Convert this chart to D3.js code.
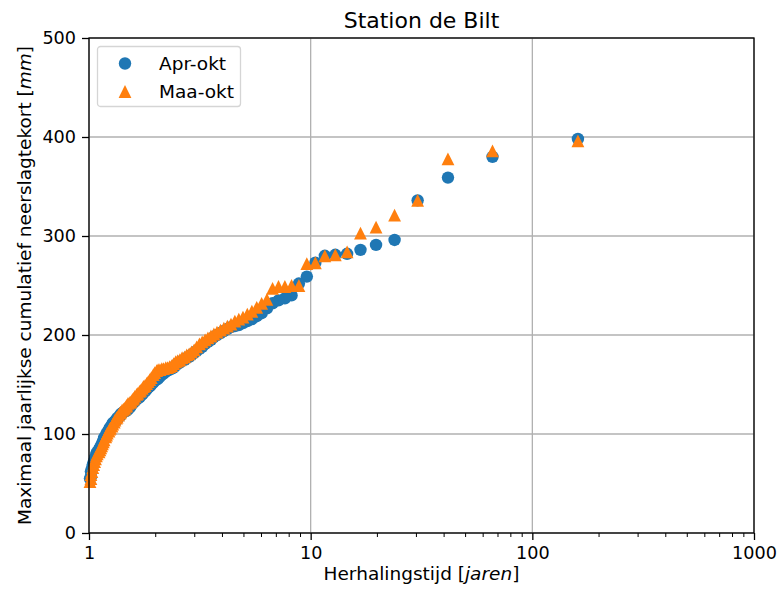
<!DOCTYPE html>
<html>
<head>
<meta charset="utf-8">
<script src="https://cdn.jsdelivr.net/npm/d3@7"></script>
<style>
  body { margin: 0; background: #fff; }
  svg text { font-family: "DejaVu Sans", sans-serif; fill: #000; }
</style>
</head>
<body>
<div id="chart"></div>
<script>
// herhalingstijd per rang (1 = grootste tekort), jaren
var returnPeriods = [160.57, 66.12, 41.63, 30.38, 23.91, 19.72, 16.78, 14.60, 12.92, 11.59,
  10.50, 9.61, 8.85, 8.20, 7.65, 7.16, 6.73, 6.35, 6.01, 5.71,
  5.43, 5.18, 4.95, 4.74, 4.55, 4.37, 4.21, 4.06, 3.92, 3.78,
  3.66, 3.55, 3.44, 3.34, 3.24, 3.15, 3.06, 2.98, 2.90, 2.83,
  2.76, 2.70, 2.63, 2.57, 2.51, 2.46, 2.41, 2.36, 2.31, 2.26,
  2.22, 2.17, 2.13, 2.09, 2.05, 2.02, 1.98, 1.95, 1.91, 1.88,
  1.85, 1.82, 1.79, 1.76, 1.74, 1.71, 1.69, 1.66, 1.64, 1.61,
  1.59, 1.57, 1.55, 1.53, 1.50, 1.48, 1.47, 1.45, 1.43, 1.41,
  1.39, 1.38, 1.36, 1.34, 1.33, 1.31, 1.30, 1.28, 1.27, 1.25,
  1.24, 1.23, 1.21, 1.20, 1.19, 1.17, 1.16, 1.15, 1.14, 1.13,
  1.12, 1.11, 1.09, 1.08, 1.07, 1.06, 1.05, 1.04, 1.03, 1.02,
  1.02, 1.01];

// neerslagtekort Apr-okt (mm), zelfde volgorde
var aprOkt = [398, 380, 359, 336, 296, 291, 286, 282, 281, 280,
  273, 259, 252, 240, 237, 235, 232, 227, 222, 219,
  216, 214, 212, 210, 209, 208, 206, 204, 202, 200,
  198, 195, 193, 191, 188, 186, 184, 182, 180, 178,
  177, 175, 174, 172, 171, 169, 167, 166, 165, 164,
  163, 161, 160, 158, 156, 155, 154, 152, 150, 148,
  147, 145, 143, 142, 140, 139, 137, 136, 135, 133,
  132, 131, 129, 127, 125, 124, 123, 123, 122, 121,
  120, 118, 117, 116, 114, 113, 112, 111, 109, 107,
  106, 104, 102, 100, 98, 96, 93, 91, 89, 87,
  86, 84, 82, 80, 77, 74, 71, 69, 65, 62,
  57, 55];

// neerslagtekort Maa-okt (mm)
var maaOkt = [396, 386, 378, 336, 321, 309, 303, 284, 281, 280,
  273, 272, 250, 250, 249, 249, 247, 236, 232, 228,
  224, 221, 218, 216, 214, 211, 209, 207, 205, 203,
  201, 199, 197, 195, 193, 191, 188, 185, 183, 181,
  180, 178, 177, 175, 174, 173, 171, 169, 168, 167,
  167, 166, 166, 165, 165, 164, 162, 160, 157, 155,
  153, 151, 149, 148, 146, 144, 143, 141, 140, 138,
  136, 135, 133, 132, 131, 129, 128, 126, 125, 124,
  122, 121, 119, 117, 116, 114, 112, 110, 108, 106,
  105, 103, 101, 99, 97, 94, 92, 90, 88, 86,
  84, 82, 80, 78, 75, 72, 69, 66, 62, 59,
  55, 52];

var xTicks = [1, 10, 100, 1000];
var xTickLabels = ["1", "10", "100", "1000"];
var yTicks = [0, 100, 200, 300, 400, 500];
var seriesNames = ["Apr-okt", "Maa-okt"];
var seriesColors = ["#1f77b4", "#ff7f0e"];

var W = 779, H = 595;
var m = {left: 89, right: 25, top: 38, bottom: 62};
var tickFont = "17.6px", labelFont = "18.5px";

var svg = d3.select("#chart").append("svg")
  .attr("width", W).attr("height", H);

var x = d3.scaleLog().domain([1, 1000]).range([m.left, W - m.right]);
var y = d3.scaleLinear().domain([0, 500]).range([H - m.bottom, m.top]);

// grid
var grid = svg.append("g");
grid.selectAll(".gx").data(xTicks).enter().append("line")
  .attr("x1", function(d) { return x(d); }).attr("x2", function(d) { return x(d); })
  .attr("y1", y(0)).attr("y2", y(500))
  .attr("stroke", "#b0b0b0").attr("stroke-width", 1.3);
grid.selectAll(".gy").data(yTicks).enter().append("line")
  .attr("x1", x(1)).attr("x2", x(1000))
  .attr("y1", function(d) { return y(d); }).attr("y2", function(d) { return y(d); })
  .attr("stroke", "#b0b0b0").attr("stroke-width", 1.3);

// punten
var pts = [];
returnPeriods.forEach(function(t, i) {
  pts.push({t: t, v: aprOkt[i], s: 0});
});
returnPeriods.forEach(function(t, i) {
  pts.push({t: t, v: maaOkt[i], s: 1});
});

var plot = svg.append("g");
var r = 6.2;
plot.selectAll(".c").data(pts.filter(function(d) { return d.s == 0; }))
  .enter().append("circle")
  .attr("cx", function(d) { return x(d.t); })
  .attr("cy", function(d) { return y(d.v); })
  .attr("r", r)
  .attr("fill", seriesColors[0]);

function tri(h) { return "M0," + (-h) + "L" + h + "," + h + "L" + (-h) + "," + h + "Z"; }
plot.selectAll(".t").data(pts.filter(function(d) { return d.s == 1; }))
  .enter().append("path")
  .attr("d", tri(6.4))
  .attr("transform", function(d) { return "translate(" + x(d.t) + "," + y(d.v) + ")"; })
  .attr("fill", seriesColors[1]);

// assen
var xAxis = d3.axisBottom(x).tickValues(xTicks).tickFormat(function(d, i) { return xTickLabels[i]; })
  .tickSizeInner(7).tickSizeOuter(0).tickPadding(7);
var gx = svg.append("g").attr("transform", "translate(0," + y(0) + ")").call(xAxis);
gx.select(".domain").remove();
gx.selectAll("text").style("font-size", tickFont);
gx.selectAll("line").attr("stroke-width", 1.3);

// kleine ticks
var minor = [];
[1, 10, 100].forEach(function(dec) {
  for (var k = 2; k <= 9; k++) minor.push(dec * k);
});
svg.append("g").selectAll("line").data(minor).enter().append("line")
  .attr("x1", function(d) { return x(d); }).attr("x2", function(d) { return x(d); })
  .attr("y1", y(0)).attr("y2", y(0) + 4)
  .attr("stroke", "#000").attr("stroke-width", 1);

var yAxis = d3.axisLeft(y).tickValues(yTicks).tickSizeInner(7).tickSizeOuter(0).tickPadding(6);
var gy = svg.append("g").attr("transform", "translate(" + x(1) + ",0)").call(yAxis);
gy.select(".domain").remove();
gy.selectAll("text").style("font-size", tickFont);
gy.selectAll("line").attr("stroke-width", 1.3);

// kader
svg.append("rect")
  .attr("x", x(1)).attr("y", y(500))
  .attr("width", x(1000) - x(1)).attr("height", y(0) - y(500))
  .attr("fill", "none").attr("stroke", "#000").attr("stroke-width", 1.3);

// titel en labels
svg.append("text").attr("x", (x(1) + x(1000)) / 2).attr("y", 28)
  .attr("text-anchor", "middle").style("font-size", "22px").text("Station de Bilt");

var xl = svg.append("text").attr("x", (x(1) + x(1000)) / 2).attr("y", 580)
  .attr("text-anchor", "middle").style("font-size", labelFont);
xl.append("tspan").text("Herhalingstijd [");
xl.append("tspan").style("font-style", "italic").text("jaren");
xl.append("tspan").text("]");

var yl = svg.append("text")
  .attr("transform", "translate(31," + ((y(0) + y(500)) / 2) + ") rotate(-90)")
  .attr("text-anchor", "middle").style("font-size", labelFont);
yl.append("tspan").text("Maximaal jaarlijkse cumulatief neerslagtekort [");
yl.append("tspan").style("font-style", "italic").text("mm");
yl.append("tspan").text("]");

// legenda
var lg = svg.append("g").attr("transform", "translate(97.5,46.5)");
lg.append("rect").attr("width", 143).attr("height", 60).attr("rx", 3)
  .attr("fill", "#fff").attr("fill-opacity", 0.8)
  .attr("stroke", "#d5d5d5").attr("stroke-width", 1.3);
lg.append("circle").attr("cx", 27.5).attr("cy", 17).attr("r", r).attr("fill", seriesColors[0]);
lg.append("path").attr("d", tri(6.4)).attr("transform", "translate(27.5,45)").attr("fill", seriesColors[1]);
seriesNames.forEach(function(n, i) {
  lg.append("text").attr("x", 61.5).attr("y", 17 + i * 28).attr("dy", "0.35em")
    .style("font-size", labelFont).text(n);
});
</script>
</body>
</html>
